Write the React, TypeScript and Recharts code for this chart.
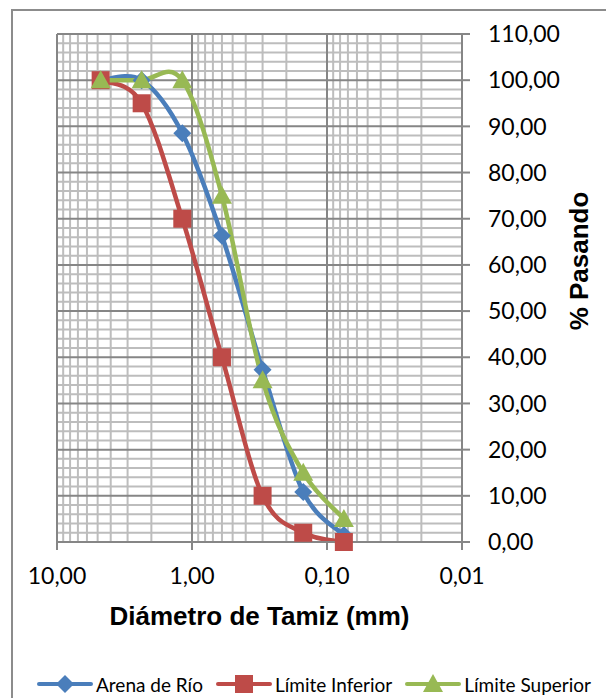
import React from 'react';
import { LineChart, Line, XAxis, YAxis, CartesianGrid, Legend } from 'recharts';

// sieve openings (mm) and % passing for each gradation
const sieveSizes = [4.75, 2.36, 1.18, 0.6, 0.3, 0.15, 0.075];
const arenaRio = [100, 100, 88.5, 66.3, 37.3, 10.8, 1.5];
const limiteInferior = [100, 95, 70, 40, 10, 2, 0];
const limiteSuperior = [100, 100, 100, 75, 35, 15, 5];

const xTicks = [10, 1, 0.1, 0.01];
const yTicks = [0, 10, 20, 30, 40, 50, 60, 70, 80, 90, 100, 110];

const xMajorGrid = [10, 1, 0.1];
const xMinorGrid = [1, 0.1, 0.01].flatMap((d) => [2, 3, 4, 5, 6, 7, 8, 9].map((k) => k * d));
const yMajorGrid = [10, 20, 30, 40, 50, 60, 70, 80, 90, 100, 110];
const yMinorGrid = Array.from({ length: 55 }, (_, i) => (i + 1) * 2).filter((v) => v % 10 !== 0);

const series = [
  { key: 'arena', name: 'Arena de Río', values: arenaRio, color: '#4A7EBB', marker: 'diamond' },
  { key: 'inferior', name: 'Límite Inferior', values: limiteInferior, color: '#BE4B48', marker: 'square' },
  { key: 'superior', name: 'Límite Superior', values: limiteSuperior, color: '#98B954', marker: 'triangle' },
];

const data = sieveSizes.map((d, i) => {
  const row: Record<string, number> = { d };
  series.forEach((s) => (row[s.key] = s.values[i]));
  return row;
});

const fmt = (v: number) => v.toFixed(2).replace('.', ',');

// Excel-style smoothed line (uniform Catmull-Rom as cubic beziers)
const smoothCurve = (context: any) => {
  let pts: number[][] = [];
  return {
    areaStart() {},
    areaEnd() {},
    lineStart() {
      pts = [];
    },
    point(x: number, y: number) {
      pts.push([+x, +y]);
    },
    lineEnd() {
      if (!pts.length) return;
      context.moveTo(pts[0][0], pts[0][1]);
      for (let i = 0; i < pts.length - 1; i++) {
        const p0 = pts[i - 1] || pts[i];
        const p1 = pts[i];
        const p2 = pts[i + 1];
        const p3 = pts[i + 2] || p2;
        context.bezierCurveTo(
          p1[0] + (p2[0] - p0[0]) / 6,
          p1[1] + (p2[1] - p0[1]) / 6,
          p2[0] - (p3[0] - p1[0]) / 6,
          p2[1] - (p3[1] - p1[1]) / 6,
          p2[0],
          p2[1]
        );
      }
    },
  };
};

const MarkerShape = ({ cx, cy, type, color }: any) => {
  if (cx == null || cy == null) return null;
  if (type === 'diamond') {
    const r = 9;
    return <polygon points={`${cx},${cy - r} ${cx + r},${cy} ${cx},${cy + r} ${cx - r},${cy}`} fill={color} />;
  }
  if (type === 'square') {
    const r = 9;
    return <rect x={cx - r} y={cy - r} width={r * 2} height={r * 2} fill={color} />;
  }
  const r = 10;
  return <polygon points={`${cx},${cy - r} ${cx + r},${cy + r * 0.8} ${cx - r},${cy + r * 0.8}`} fill={color} />;
};

const LegendContent = () => (
  <div
    style={{
      display: 'flex',
      alignItems: 'center',
      height: 26,
      fontFamily: 'Lato',
      fontSize: 19,
      color: '#000',
      whiteSpace: 'nowrap',
    }}
  >
    {series.map((s) => (
      <div key={s.key} style={{ display: 'flex', alignItems: 'center', marginRight: 13 }}>
        <svg width={56} height={20} style={{ marginRight: 3 }}>
          <line x1={2} y1={10} x2={54} y2={10} stroke={s.color} strokeWidth={4} strokeLinecap="round" />
          <MarkerShape cx={28} cy={10} type={s.marker} color={s.color} />
        </svg>
        <span>{s.name}</span>
      </div>
    ))}
  </div>
);

export default function App() {
  return (
    <div style={{ position: 'fixed', left: 0, top: 0, width: 606, height: 698, overflow: 'hidden', background: '#fff' }}>
      <div
        style={{
          position: 'absolute',
          left: 11,
          top: 9,
          width: 620,
          height: 700,
          border: '2px solid #8c8c8c',
          background: '#fff',
        }}
      >
        <LineChart width={620} height={700} data={data} margin={{ top: 23, right: 61, bottom: 43, left: 44 }}>
          <CartesianGrid stroke="#bdbdbd" strokeWidth={2} verticalValues={xMinorGrid} horizontalValues={yMinorGrid} />
          <CartesianGrid stroke="#868686" strokeWidth={2} verticalValues={xMajorGrid} horizontalValues={yMajorGrid} />
          <XAxis
            dataKey="d"
            type="number"
            scale="log"
            domain={[0.01, 10]}
            allowDataOverflow
            reversed
            ticks={xTicks}
            interval={0}
            tickFormatter={fmt}
            height={100}
            tickSize={8}
            tickMargin={18}
            axisLine={{ stroke: '#868686', strokeWidth: 2 }}
            tickLine={{ stroke: '#868686', strokeWidth: 2 }}
            tick={{ fill: '#000', fontFamily: 'Lato', fontSize: 23 }}
            label={({ viewBox }: any) => (
              <text
                x={viewBox.x + viewBox.width / 2}
                y={viewBox.y + 83}
                textAnchor="middle"
                fontFamily="Liberation Sans"
                fontWeight="bold"
                fontSize={26}
                fill="#000"
              >
                Diámetro de Tamiz (mm)
              </text>
            )}
          />
          <YAxis
            orientation="right"
            type="number"
            domain={[0, 110]}
            ticks={yTicks}
            interval={0}
            tickFormatter={fmt}
            width={110}
            tickSize={8}
            tickMargin={18}
            axisLine={{ stroke: '#868686', strokeWidth: 2 }}
            tickLine={{ stroke: '#868686', strokeWidth: 2 }}
            tick={{ fill: '#000', fontFamily: 'Lato', fontSize: 23 }}
            label={({ viewBox }: any) => {
              const x = viewBox.x + 126;
              const y = viewBox.y + viewBox.height / 2 - 27;
              return (
                <text
                  x={x}
                  y={y}
                  transform={`rotate(-90 ${x} ${y})`}
                  textAnchor="middle"
                  fontFamily="Liberation Sans"
                  fontWeight="bold"
                  fontSize={26}
                  fill="#000"
                >
                  % Pasando
                </text>
              );
            }}
          />
          {series.map((s) => (
            <Line
              key={s.key}
              dataKey={s.key}
              name={s.name}
              type={smoothCurve as any}
              stroke={s.color}
              strokeWidth={4.5}
              isAnimationActive={false}
              dot={(p: any) => <MarkerShape key={`${s.key}-${p.index}`} cx={p.cx} cy={p.cy} type={s.marker} color={s.color} />}
              activeDot={false}
            />
          ))}
          <Legend content={<LegendContent />} wrapperStyle={{ left: 24, bottom: 14, width: 700 }} />
        </LineChart>
      </div>
    </div>
  );
}
